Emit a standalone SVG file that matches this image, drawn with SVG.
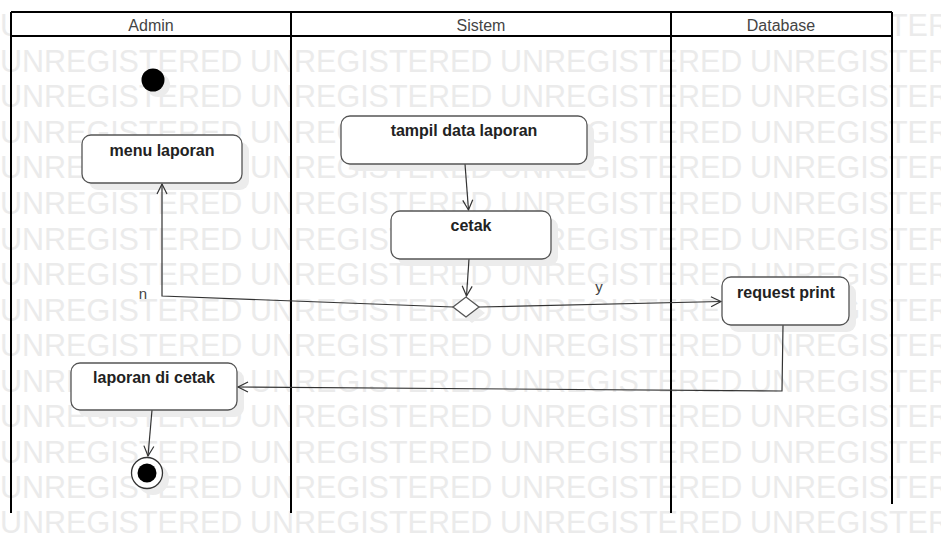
<svg xmlns="http://www.w3.org/2000/svg" xmlns:xlink="http://www.w3.org/1999/xlink" width="941" height="536" viewBox="0 0 941 536">
<style>
.wm{font-family:"Liberation Sans",Arial,sans-serif;font-size:30.5px;fill:#ebebeb}
.lane{stroke:#000;stroke-width:2;fill:none}
.hdr{font-family:"Liberation Sans",Arial,sans-serif;font-size:16px;fill:#444;text-anchor:middle}
.node{fill:#fff;stroke:#555;stroke-width:1.3}
.shadow{fill:#ececec}
.lbl{font-family:"Liberation Sans",Arial,sans-serif;font-size:16px;font-weight:bold;fill:#222;text-anchor:middle}
.glbl{font-family:"Liberation Sans",Arial,sans-serif;font-size:15px;fill:#444;text-anchor:middle}
.edge{fill:none;stroke:#333;stroke-width:1.2}
</style>
<defs>
<marker id="arr" markerUnits="userSpaceOnUse" markerWidth="14" markerHeight="14" refX="11" refY="6" orient="auto">
<path d="M1,1 L11,6 L1,11" fill="none" stroke="#333" stroke-width="1.2"/>
</marker>
<g id="wmrow">
<text class="wm" x="0">UNREGISTERED</text>
<text class="wm" x="250">UNREGISTERED</text>
<text class="wm" x="500">UNREGISTERED</text>
<text class="wm" x="750">UNREGISTERED</text>
</g>
</defs>
<rect width="941" height="536" fill="#fff"/>
<g id="watermark">
<use xlink:href="#wmrow" y="36"/>
<use xlink:href="#wmrow" y="71.6"/>
<use xlink:href="#wmrow" y="107.2"/>
<use xlink:href="#wmrow" y="142.8"/>
<use xlink:href="#wmrow" y="178.4"/>
<use xlink:href="#wmrow" y="214"/>
<use xlink:href="#wmrow" y="249.6"/>
<use xlink:href="#wmrow" y="285.2"/>
<use xlink:href="#wmrow" y="320.8"/>
<use xlink:href="#wmrow" y="356"/>
<use xlink:href="#wmrow" y="391.5"/>
<use xlink:href="#wmrow" y="427"/>
<use xlink:href="#wmrow" y="462.5"/>
<use xlink:href="#wmrow" y="497.5"/>
<use xlink:href="#wmrow" y="533"/>
</g>
<g id="lanes">
<rect x="11" y="12" width="881" height="24" fill="#fff"/>
<path class="lane" d="M11,12 H892 M11,36 H892 M11,12 V513 M291,12 V513 M671,12 V513 M892,12 V504"/>
<text class="hdr" x="151" y="31">Admin</text>
<text class="hdr" x="481" y="31">Sistem</text>
<text class="hdr" x="781" y="31">Database</text>
</g>
<g id="shadows">
<circle class="shadow" cx="158" cy="85" r="12"/>
<rect class="shadow" x="89" y="142" width="160" height="48" rx="9"/>
<rect class="shadow" x="348" y="123" width="246" height="48" rx="9"/>
<rect class="shadow" x="398" y="218" width="160" height="48" rx="9"/>
<rect class="shadow" x="729" y="284" width="127" height="48" rx="9"/>
<rect class="shadow" x="78" y="370" width="166" height="47" rx="9"/>
<polygon class="shadow" points="459,313 472,303 485,313 472,323"/>
<circle class="shadow" cx="153" cy="479" r="16"/>
</g>
<g id="connectors">
<path class="edge" d="M465,164 L468.5,210" marker-end="url(#arr)"/>
<path class="edge" d="M469,259 L466.5,296" marker-end="url(#arr)"/>
<path class="edge" d="M453,307 L162,296 L162,184" marker-end="url(#arr)"/>
<text class="glbl" x="143" y="299">n</text>
<path class="edge" d="M479,307 L721,301.5" marker-end="url(#arr)"/>
<text class="glbl" x="599" y="292">y</text>
<path class="edge" d="M783,325 L782,391 L238,387" marker-end="url(#arr)"/>
<path class="edge" d="M152,410 L148,456" marker-end="url(#arr)"/>
</g>
<g id="initial"><circle cx="153" cy="80" r="11.5" fill="#000"/></g>
<g id="menu-laporan">
<rect class="node" x="82" y="135" width="160" height="48" rx="9"/>
<text class="lbl" x="162" y="156">menu laporan</text>
</g>
<g id="tampil-data-laporan">
<rect class="node" x="341" y="116" width="246" height="48" rx="9"/>
<text class="lbl" x="464" y="136">tampil data laporan</text>
</g>
<g id="cetak">
<rect class="node" x="391" y="211" width="160" height="48" rx="9"/>
<text class="lbl" x="471" y="231">cetak</text>
</g>
<g id="decision">
<polygon class="node" points="453,307 466,297 479,307 466,317"/>
</g>
<g id="request-print">
<rect class="node" x="722" y="277" width="127" height="48" rx="9"/>
<text class="lbl" x="786" y="298">request print</text>
</g>
<g id="laporan-di-cetak">
<rect class="node" x="71" y="363" width="166" height="47" rx="9"/>
<text class="lbl" x="154" y="383">laporan di cetak</text>
</g>
<g id="final">
<circle cx="147" cy="473" r="15.5" fill="#fff" stroke="#333" stroke-width="1.3"/>
<circle cx="147" cy="473" r="9.5" fill="#000"/>
</g>
</svg>
